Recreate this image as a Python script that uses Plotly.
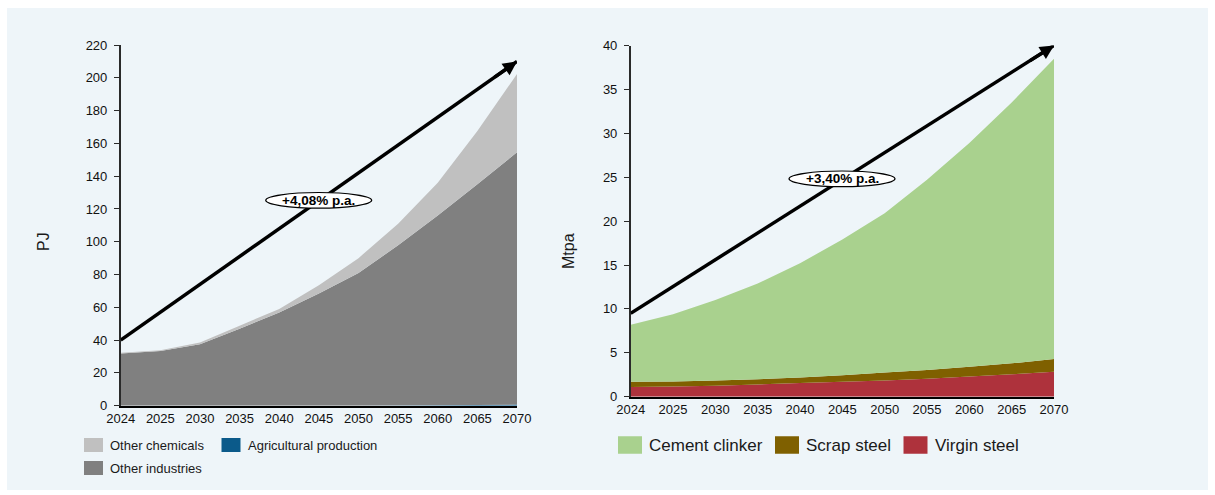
import plotly.graph_objects as go

# ---- data -------------------------------------------------------------
years = ["2024", "2025", "2030", "2035", "2040", "2045",
         "2050", "2055", "2060", "2065", "2070"]

# Energy demand, PJ (stacked)
agricultural_production = [0, 0, 0, 0, 0, 0, 0, 0.1, 0.2, 0.4, 0.7]
other_industries = [31.9, 33.3, 37.5, 47.0, 56.8, 68.4, 81.0, 97.7, 115.8, 134.6, 153.9]
other_chemicals = [0.4, 0.5, 1.0, 1.8, 2.2, 5.1, 9.0, 13.2, 20.0, 32.5, 47.7]

# Material production, Mtpa (stacked)
virgin_steel = [1.1, 1.15, 1.25, 1.4, 1.55, 1.7, 1.85, 2.05, 2.3, 2.55, 2.85]
scrap_steel = [0.6, 0.57, 0.6, 0.6, 0.65, 0.75, 0.9, 1.0, 1.1, 1.25, 1.45]
cement_clinker = [6.5, 7.68, 9.15, 10.9, 13.0, 15.45, 18.15, 21.65, 25.5, 29.7, 34.2]

# growth arrows: (start value, end value, label)
pj_arrow = (40, 210, "+4,08% p.a.")
mt_arrow = (9.5, 40, "+3,40% p.a.")

pj_ticks = list(range(0, 221, 20))
mt_ticks = list(range(0, 41, 5))

# ---- layout helpers ---------------------------------------------------
W, H = 1215, 495
FONT = "Liberation Sans, Arial, sans-serif"
INK = "#1a1a1a"

COLORS = {
    "Agricultural production": "#0B5A8A",
    "Other industries": "#808080",
    "Other chemicals": "#C0C0C0",
    "Virgin steel": "#AE323C",
    "Scrap steel": "#7F6000",
    "Cement clinker": "#A9D18E",
}


def px(x):
    return x / W


def py(y):
    return 1 - y / H


fig = go.Figure()


def area(x, y, name, xa, ya, group):
    fig.add_trace(go.Scatter(
        x=x, y=y, name=name, mode="none", stackgroup=group,
        fillcolor=COLORS[name], line=dict(width=0),
        xaxis=xa, yaxis=ya, showlegend=False, hoverinfo="x+y+name",
    ))


area(years, agricultural_production, "Agricultural production", "x", "y", "pj")
area(years, other_industries, "Other industries", "x", "y", "pj")
area(years, other_chemicals, "Other chemicals", "x", "y", "pj")

area(years, virgin_steel, "Virgin steel", "x2", "y2", "mt")
area(years, scrap_steel, "Scrap steel", "x2", "y2", "mt")
area(years, cement_clinker, "Cement clinker", "x2", "y2", "mt")

tickfont = dict(family=FONT, size=13, color="#111111")

xcommon = dict(type="category", range=[0, len(years) - 1], showline=True,
               linecolor="#000000", linewidth=1.5, ticks="", showgrid=False,
               zeroline=False, tickfont=tickfont, ticklabelstandoff=0,
               fixedrange=True)
ycommon = dict(showline=True, linecolor="#2a2a2a", linewidth=1.5,
               ticks="outside", ticklen=5, tickwidth=1.2, tickcolor="#2a2a2a",
               showgrid=False, zeroline=False, tickfont=tickfont,
               ticklabelstandoff=4, fixedrange=True)

fig.update_layout(
    width=W, height=H,
    margin=dict(l=0, r=0, t=0, b=0, autoexpand=False),
    paper_bgcolor="#ffffff", plot_bgcolor="rgba(0,0,0,0)",
    font=dict(family=FONT, color=INK),
    showlegend=False,
    xaxis=dict(domain=[px(120.7), px(517)], anchor="y", **xcommon),
    yaxis=dict(domain=[py(405.7), py(45)], anchor="x", range=[0, 220],
               tickvals=pj_ticks, **ycommon),
    xaxis2=dict(domain=[px(630.7), px(1054)], anchor="y2", **xcommon),
    yaxis2=dict(domain=[py(396.7), py(45.5)], anchor="x2", range=[0, 40],
                tickvals=mt_ticks, **ycommon),
)

# light panel behind everything
fig.add_shape(type="rect", xref="paper", yref="paper",
              x0=px(7), x1=px(1208), y0=py(490), y1=py(8),
              fillcolor="#EEF5F9", line=dict(width=0), layer="below")

# axis titles
fig.add_annotation(text="PJ", xref="paper", yref="paper", x=px(43), y=py(242),
                   xanchor="center", yanchor="middle", textangle=-90, showarrow=False,
                   font=dict(family=FONT, size=16, color=INK))
fig.add_annotation(text="Mtpa", xref="paper", yref="paper", x=px(568), y=py(251),
                   xanchor="center", yanchor="middle", textangle=-90, showarrow=False,
                   font=dict(family=FONT, size=16, color=INK))


def growth_arrow(xa, ya, arrow, ellipse_center):
    v0, v1, label = arrow
    n = len(years) - 1
    # shaft
    fig.add_shape(type="line", xref=xa, yref=ya, x0=0, x1=n, y0=v0, y1=v1,
                  line=dict(color="#000000", width=3.5), layer="above")
    # head
    back = n - 0.6
    fig.add_annotation(x=n, y=v1, ax=back, ay=v0 + (v1 - v0) * back / n,
                       xref=xa, yref=ya, axref=xa, ayref=ya, text="",
                       showarrow=True, arrowhead=2, arrowsize=0.8, arrowwidth=3.5,
                       arrowcolor="#000000", standoff=0)
    # label in an ellipse
    cx, cy = ellipse_center
    fig.add_shape(type="circle", xref="paper", yref="paper",
                  x0=px(cx - 53), x1=px(cx + 53), y0=py(cy + 7.8), y1=py(cy - 7.8),
                  fillcolor="#ffffff", line=dict(color="#000000", width=1.2), layer="above")
    fig.add_annotation(text="<b>%s</b>" % label, xref="paper", yref="paper",
                       x=px(cx), y=py(cy), xanchor="center", yanchor="middle",
                       showarrow=False,
                       font=dict(family=FONT, size=13.5, color="#000000"))


growth_arrow("x", "y", pj_arrow, (318.7, 200.3))
growth_arrow("x2", "y2", mt_arrow, (842, 178.8))


# legends: colour swatch + series name
def legend_entry(name, x, y, sw, sh, size):
    fig.add_shape(type="rect", xref="paper", yref="paper",
                  x0=px(x), x1=px(x + sw), y0=py(y + sh / 2), y1=py(y - sh / 2),
                  fillcolor=COLORS[name], line=dict(width=0))
    fig.add_annotation(text=name, xref="paper", yref="paper",
                       x=px(x + sw + 5), y=py(y), xanchor="left", yanchor="middle",
                       showarrow=False, font=dict(family=FONT, size=size, color=INK))


legend_entry("Other chemicals", 84, 445, 19, 14, 13)
legend_entry("Agricultural production", 221.5, 445, 19, 14, 13)
legend_entry("Other industries", 84, 468, 19, 14, 13)

legend_entry("Cement clinker", 618, 445, 24, 17.5, 17)
legend_entry("Scrap steel", 775, 445, 24, 17.5, 17)
legend_entry("Virgin steel", 903.5, 445, 24, 17.5, 17)

fig.write_html("out.html")
